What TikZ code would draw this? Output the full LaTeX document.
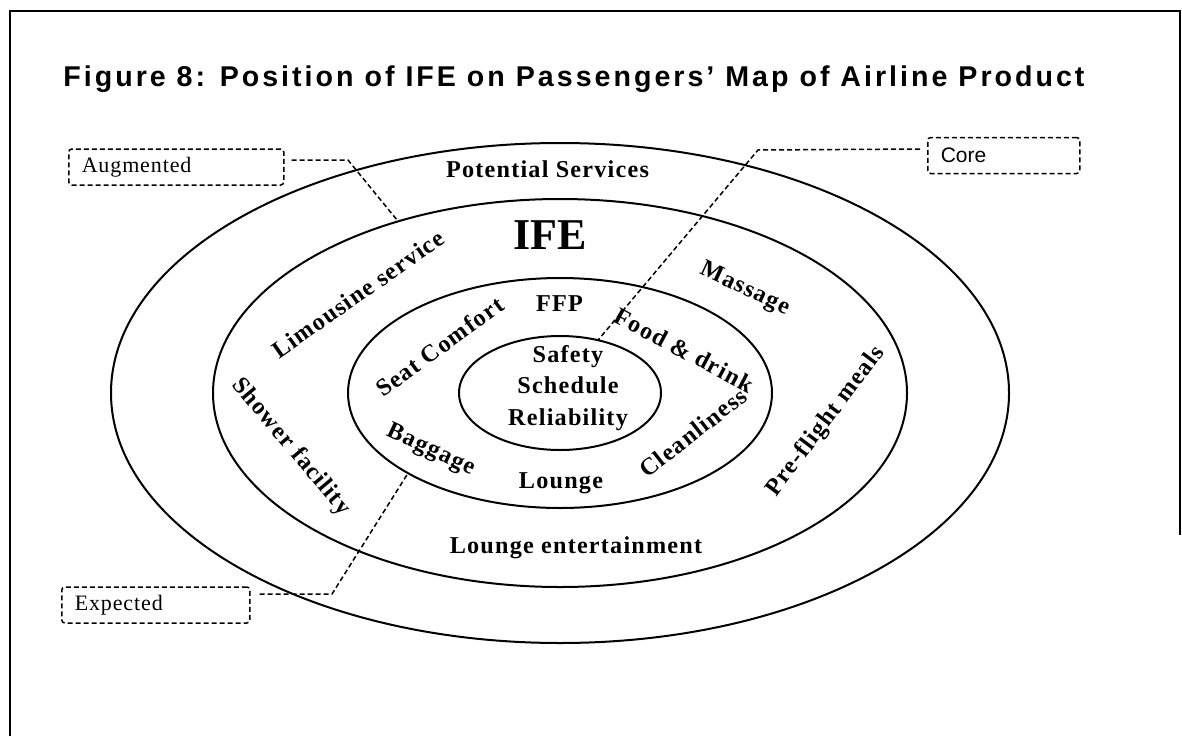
\documentclass[tikz,border=0pt]{standalone}
\usepackage{fontspec}
\setmainfont{Liberation Serif}
\newfontfamily\titlefont[LetterSpace=10.5]{Liberation Sans}
\newfontfamily\corefont{Liberation Sans}
\newfontfamily\lblfont[LetterSpace=5]{Liberation Serif}
\newfontfamily\tagfont[LetterSpace=4]{Liberation Serif}
\usetikzlibrary{calc}

\begin{document}
\begin{tikzpicture}[x=0.5pt,y=0.5pt,
  ring/.style={line width=1pt},
  lbl/.style={inner sep=0pt, font=\lblfont\bfseries\fontsize{12.1}{14}\selectfont},
  tag/.style={draw, line width=0.75pt, dash pattern=on 2.5pt off 1.5pt, rounded corners=1.5pt,
    align=left, inner xsep=6.5pt, minimum height=18pt, anchor=west,
    font=\tagfont\fontsize{11}{13}\selectfont},
  link/.style={line width=0.75pt, dash pattern=on 2.5pt off 1.5pt}]
\useasboundingbox (0,0) rectangle (1182,736);

% frame
\draw[line width=1pt] (10,0) -- (10,725) -- (1180,725) -- (1180,201);

\node[anchor=base west, inner sep=0pt, font=\titlefont\bfseries\fontsize{14.3}{17}\selectfont]
  (title) at (63,650) {Figure 8: Position of IFE on Passengers’ Map of Airline Product};

% rings
\coordinate (ctr) at (560,343);
\draw[ring] (ctr) ellipse [x radius=449, y radius=250];
\draw[ring] (ctr) ellipse [x radius=347, y radius=194];
\draw[ring] (ctr) ellipse [x radius=212, y radius=115];
\draw[ring] (ctr) ellipse [x radius=101, y radius=57];

% outer and augmented ring
\node[lbl, anchor=base] (potential) at (547.5,559) {Potential Services};
\node[lbl, anchor=base, font=\bfseries\fontsize{22}{24}\selectfont] (ife) at (550,487) {IFE};
\node[lbl, rotate=35] (limo) at (358,442) {Limousine service};
\node[lbl, rotate=-50] (shower) at (291,289) {Shower facility};
\node[lbl, rotate=-25] (massage) at (744.5,446.5) {Massage};
\node[lbl, rotate=53] (preflight) at (826,314.5) {Pre-flight meals};
\node[lbl, anchor=base] (entertain) at (576,183) {Lounge entertainment};

% expected ring
\node[lbl, anchor=base] (ffp) at (559.5,425) {FFP};
\node[lbl, rotate=36] (seat) at (439.5,389.5) {Seat Comfort};
\node[lbl, rotate=-28] (food) at (684.5,386) {Food \& drink};
\node[lbl, rotate=-25] (baggage) at (430.5,285.5) {Baggage};
\node[lbl, rotate=38] (clean) at (693,303.5) {Cleanliness};
\node[lbl, anchor=base] (lounge) at (561,248) {Lounge};

% core
\node[lbl, align=center, font=\lblfont\bfseries\fontsize{12.1}{15.75}\selectfont]
  (core) at (568,348) {Safety\\Schedule\\Reliability};

% tags
\node[tag, text width=94.5pt] (aug) at (68,569) {Augmented};
\node[tag, text width=63pt, font=\corefont\fontsize{10.5}{13}\selectfont] (coretag) at (927,580.5) {Core};
\node[tag, text width=81pt] (exp) at (61,131) {Expected};

\coordinate (augKnee) at (348,576);
\coordinate (augEnd) at ($(ctr)+(117.8:347 and 194)$);
\coordinate (coreKnee) at (758,586);
\coordinate (coreEnd) at ($(ctr)+(67.9:101 and 57)$);
\coordinate (expKnee) at (332,142);
\coordinate (expEnd) at ($(ctr)+(224.2:212 and 115)$);

\draw[link] ([shift={(3.5pt,3.5pt)}]aug.east) -- (augKnee) -- (augEnd);
\draw[link] ([shift={(-3.5pt,3.25pt)}]coretag.west) -- (coreKnee) -- (coreEnd);
\draw[link] ([shift={(4.5pt,5.5pt)}]exp.east) -- (expKnee) -- (expEnd);
\end{tikzpicture}
\end{document}
